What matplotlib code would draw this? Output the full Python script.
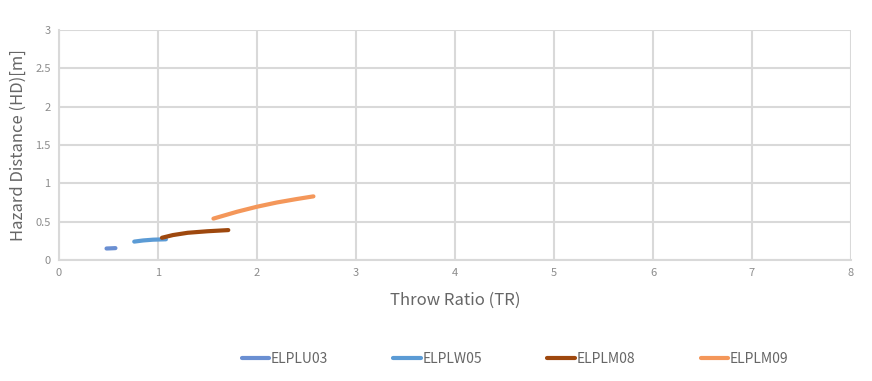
import numpy as np
import matplotlib.pyplot as plt

plt.rcParams['font.family'] = ['Noto Sans CJK JP', 'DejaVu Sans']

# データ (読み取り値)
names = ['ELPLU03', 'ELPLW05', 'ELPLM08', 'ELPLM09']
colors = ['#6a8fd2', '#5b9bd5', '#9e480e', '#f4975a']

tr_u03 = [0.48, 0.52, 0.57]
hd_u03 = [0.15, 0.152, 0.155]

tr_w05 = [0.76, 0.85, 0.95, 1.08]
hd_w05 = [0.24, 0.255, 0.265, 0.27]

tr_m08 = [1.04, 1.15, 1.3, 1.5, 1.71]
hd_m08 = [0.29, 0.325, 0.355, 0.375, 0.39]

tr_m09 = [1.56, 1.8, 2.0, 2.2, 2.4, 2.57]
hd_m09 = [0.54, 0.63, 0.695, 0.75, 0.795, 0.83]

series = [(tr_u03, hd_u03), (tr_w05, hd_w05), (tr_m08, hd_m08), (tr_m09, hd_m09)]

fig = plt.figure(figsize=(8.72, 3.81), dpi=100)
ax = fig.add_axes([59/872, 1-260/381, (851-59)/872, (260-30)/381])

for (x, y), nm, c in zip(series, names, colors):
    ax.plot(x, y, color=c, lw=3, solid_capstyle='round', label=nm)

ax.set_xlim(0, 8)
ax.set_ylim(0, 3)
ax.set_xticks(range(0, 9))
ax.set_yticks([0, 0.5, 1, 1.5, 2, 2.5, 3])
ax.set_yticklabels(['0', '0.5', '1', '1.5', '2', '2.5', '3'])
ax.grid(True, color='#d9d9d9', lw=1.5)
ax.set_axisbelow(True)
for s in ax.spines.values():
    s.set_visible(False)
ax.spines['bottom'].set_visible(True)
ax.spines['left'].set_visible(True)
ax.spines['bottom'].set_color('#d9d9d9')
ax.spines['left'].set_color('#d9d9d9')
ax.spines['bottom'].set_linewidth(1.5)
ax.spines['left'].set_linewidth(1.5)
ax.tick_params(length=0, labelsize=8, colors='#8c8c8c', pad=6)

ax.set_xlabel('Throw Ratio (TR)', fontsize=12, color='#666666', labelpad=10)
ax.set_ylabel('Hazard Distance (HD)[m]', fontsize=12, color='#666666', labelpad=6)

fig.legend(loc='center', bbox_to_anchor=(515/872, 1-359/381), ncol=4, frameon=False,
           fontsize=10, labelcolor='#666666', handlelength=2.0, handletextpad=0.1,
           columnspacing=4.7)

fig.savefig('out.png', dpi=100)
